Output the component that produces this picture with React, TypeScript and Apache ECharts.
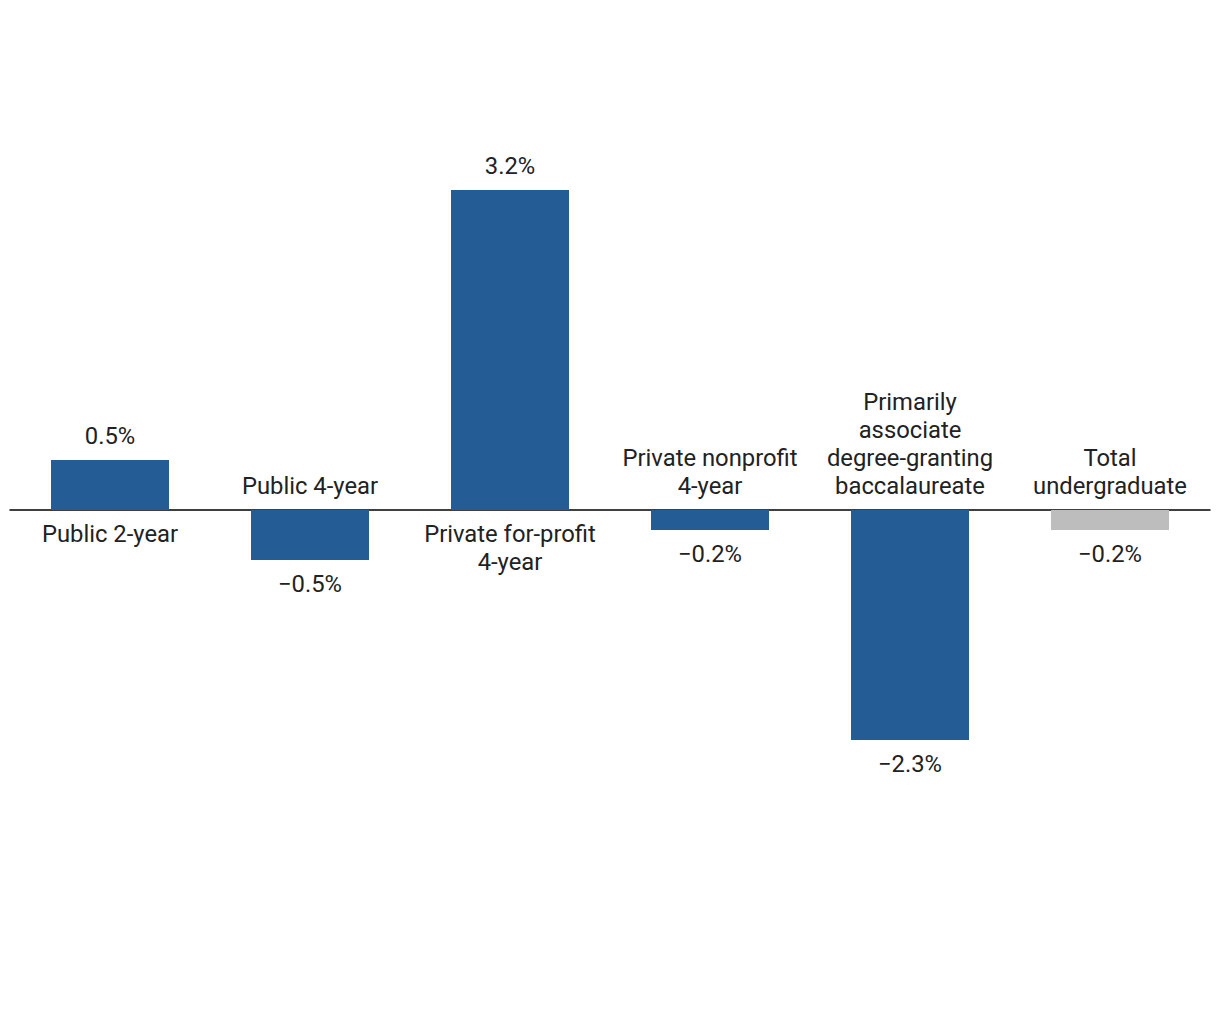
import React, { useEffect, useRef } from "react";
import * as echarts from "echarts";

const categories = [
  "Public 2-year",
  "Public 4-year",
  "Private for-profit\n4-year",
  "Private nonprofit\n4-year",
  "Primarily\nassociate\ndegree-granting\nbaccalaureate",
  "Total\nundergraduate",
];
const values = [0.5, -0.5, 3.2, -0.2, -2.3, -0.2];
const barColors = ["#245d96", "#245d96", "#245d96", "#245d96", "#245d96", "#bdbdbd"];

const fmt = (v: number) => (v < 0 ? "\u2212" + Math.abs(v).toFixed(1) : v.toFixed(1)) + "%";

export default function App() {
  const ref = useRef<HTMLDivElement>(null);
  useEffect(() => {
    if (!ref.current) return;
    const chart = echarts.init(ref.current, undefined, { renderer: "svg" });
    const textStyle = {
      fontFamily: "Roboto",
      fontSize: 23.8,
      lineHeight: 28,
      color: "#222222",
    };
    chart.setOption({
      animation: false,
      grid: { left: 10, right: 10, top: 10, bottom: 10, containLabel: false },
      xAxis: {
        type: "category",
        data: categories,
        axisLine: { show: true, onZero: true, lineStyle: { color: "#000000", width: 1.5 } },
        axisTick: { show: false },
        axisLabel: { show: false },
        splitLine: { show: false },
      },
      yAxis: {
        type: "value",
        min: -5,
        max: 5,
        show: false,
        splitLine: { show: false },
      },
      series: [
        {
          type: "bar",
          barWidth: 118,
          data: values.map((v, i) => ({
            value: v,
            itemStyle: { color: barColors[i] },
            label: {
              show: true,
              position: v >= 0 ? "top" : "bottom",
              distance: 10,
              formatter: () => fmt(v),
              ...textStyle,
            },
          })),
        },
        {
          type: "scatter",
          symbolSize: 1,
          itemStyle: { color: "rgba(0,0,0,0)", opacity: 1 },
          silent: true,
          z: 5,
          data: values.map((v, i) => ({
            value: [i, 0],
            label: {
              show: true,
              position: v >= 0 ? "bottom" : "top",
              distance: v >= 0 ? 9 : 10,
              formatter: () => categories[i],
              align: "center",
              ...textStyle,
            },
          })),
        },
      ],
    });
    return () => chart.dispose();
  }, []);
  return (
    <div
      ref={ref}
      style={{ position: "absolute", left: 0, top: 0, width: 1220, height: 1020, background: "#ffffff" }}
    />
  );
}
